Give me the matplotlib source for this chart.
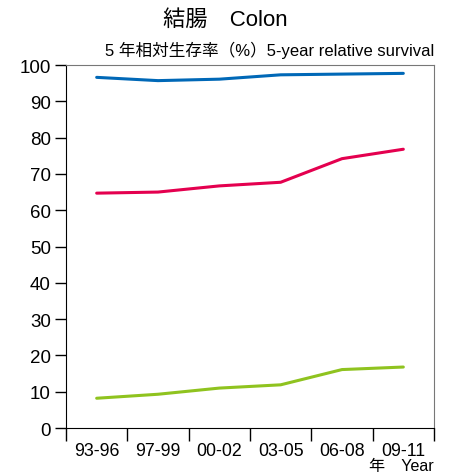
import matplotlib
matplotlib.use("Agg")
import matplotlib.pyplot as plt
import numpy as np

plt.rcParams["font.family"] = ["Liberation Sans", "Noto Sans CJK JP", "DejaVu Sans"]

periods = ["93-96", "97-99", "00-02", "03-05", "06-08", "09-11"]
blue_vals = [96.6, 95.7, 96.1, 97.3, 97.5, 97.7]
red_vals = [64.7, 65.0, 66.7, 67.7, 74.2, 76.8]
green_vals = [8.2, 9.3, 11.0, 11.9, 16.1, 16.8]

fig = plt.figure(figsize=(4.5, 4.77), dpi=100)
ax = fig.add_axes([0.1467, 0.1006, 0.8177, 0.761])

x = np.arange(len(periods))
ax.plot(x, blue_vals, color="#0068b7", lw=2.2, solid_capstyle="round")
ax.plot(x, red_vals, color="#e4004f", lw=2.2, solid_capstyle="round")
ax.plot(x, green_vals, color="#8fc31f", lw=2.2, solid_capstyle="round")

ax.set_xlim(-0.5, len(periods) - 0.5)
ax.set_ylim(0, 100)
ax.set_yticks(range(0, 101, 10))
ax.tick_params(axis="y", direction="out", length=8, width=1, labelsize=13.5, pad=3)

# boundaries as tick marks, labels at the centres
ax.set_xticks(np.arange(-0.5, len(periods), 1))
ax.set_xticklabels([])
ax.set_xticks(x, minor=True)
ax.set_xticklabels(periods, minor=True)
ax.tick_params(axis="x", which="major", direction="out", length=9, width=1)
ax.tick_params(axis="x", which="minor", length=0, labelsize=12.8, pad=10)

for s in ["top", "right"]:
    ax.spines[s].set_color("#777777")
for s in ["left", "bottom"]:
    ax.spines[s].set_color("black")

fig.text(0.5, 0.958, "結腸　Colon", ha="center", va="center", fontsize=16)
fig.text(0.964, 0.895, "5 年相対生存率（%）5-year relative survival", ha="right",
         va="center", fontsize=12)
fig.text(0.964, 0.021, "年　Year", ha="right", va="center", fontsize=11.6)

fig.savefig("out.png", dpi=100)
